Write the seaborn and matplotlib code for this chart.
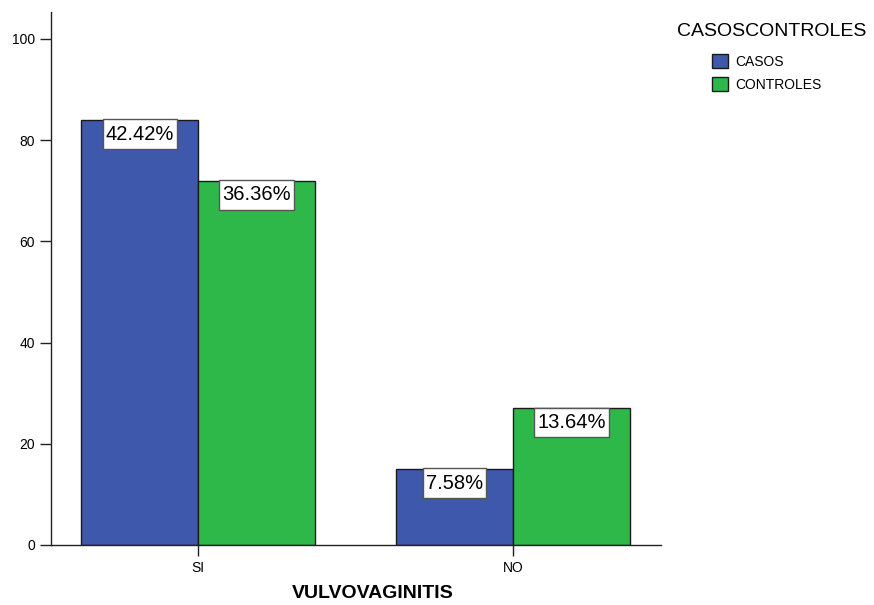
import matplotlib
matplotlib.use("Agg")
import matplotlib.pyplot as plt
from matplotlib.path import Path
import seaborn as sns
import pandas as pd

# Counts per group
categories = ["SI", "NO"]
casos = [84, 15]
controles = [72, 27]
groups = ["CASOS", "CONTROLES"]
y_ticks = [0, 20, 40, 60, 80, 100]

total = sum(casos) + sum(controles)

df = pd.DataFrame({
    "VULVOVAGINITIS": categories * 2,
    "Recuento": casos + controles,
    "CASOSCONTROLES": [groups[0]] * len(categories) + [groups[1]] * len(categories),
})

sns.set_style("ticks")
plt.rcParams["font.family"] = ["Liberation Sans", "DejaVu Sans"]
plt.rcParams["text.color"] = "black"
plt.rcParams["axes.labelcolor"] = "black"


def label_box(x0, y0, width, height, mutation_size):
    """Rectangular label box with separate horizontal and vertical padding."""
    px = 0.14 * mutation_size
    py = 0.27 * mutation_size
    verts = [(x0 - px, y0 - py), (x0 + width + px, y0 - py),
             (x0 + width + px, y0 + height + py), (x0 - px, y0 + height + py),
             (x0 - px, y0 - py)]
    return Path(verts, closed=True)


fig = plt.figure(figsize=(8.74, 6.05), dpi=100)
ax = fig.add_axes([51 / 874, 1 - 545 / 605, 610 / 874, (545 - 12) / 605])

palette = {"CASOS": "#3E58AC", "CONTROLES": "#2EB84A"}
sns.barplot(data=df, x="VULVOVAGINITIS", y="Recuento", hue="CASOSCONTROLES",
            order=categories, hue_order=groups, palette=palette,
            width=0.743, gap=0, edgecolor="#1a1a1a", linewidth=1.0,
            saturation=1, errorbar=None, ax=ax)

# Percentage boxes at the top of each bar
for container in ax.containers:
    for patch in container:
        h = patch.get_height()
        cx = patch.get_x() + patch.get_width() / 2
        ax.annotate(f"{h / total * 100:.2f}%", xy=(cx, h), xytext=(0, -3.4),
                    textcoords="offset points", ha="center", va="top",
                    fontsize=14.5, color="black",
                    bbox=dict(boxstyle=label_box, fc="white",
                              ec="#555555", lw=1.0))

ax.set_xlim(-0.467, 1.47)
ax.set_ylim(0, 105.3)
ax.set_yticks(y_ticks)
ax.tick_params(axis="both", labelsize=10, length=8, width=1, color="#222222",
               labelcolor="black")
sns.despine(ax=ax)
for s in ("left", "bottom"):
    ax.spines[s].set_color("#222222")
    ax.spines[s].set_linewidth(1)

ax.set_ylabel("")
ax.set_xlabel("VULVOVAGINITIS", fontsize=14, fontweight="bold")
ax.xaxis.set_label_coords((373 - 51) / 610, -0.075)

# Legend: title drawn separately so the entries can sit lower
fig.text(677 / 874, 1 - 32 / 605, "CASOSCONTROLES", fontsize=14,
         ha="left", va="center", color="black")
handles, labels = ax.get_legend_handles_labels()
leg = ax.legend(handles, labels, loc="upper left",
                bbox_to_anchor=(712 / 874, 1 - 54 / 605),
                bbox_transform=fig.transFigure, frameon=False,
                fontsize=10, handlelength=1.15, handleheight=1.15,
                handletextpad=0.5, labelspacing=0.62, borderpad=0,
                borderaxespad=0)

fig.savefig("out.png", dpi=100, facecolor="white")
